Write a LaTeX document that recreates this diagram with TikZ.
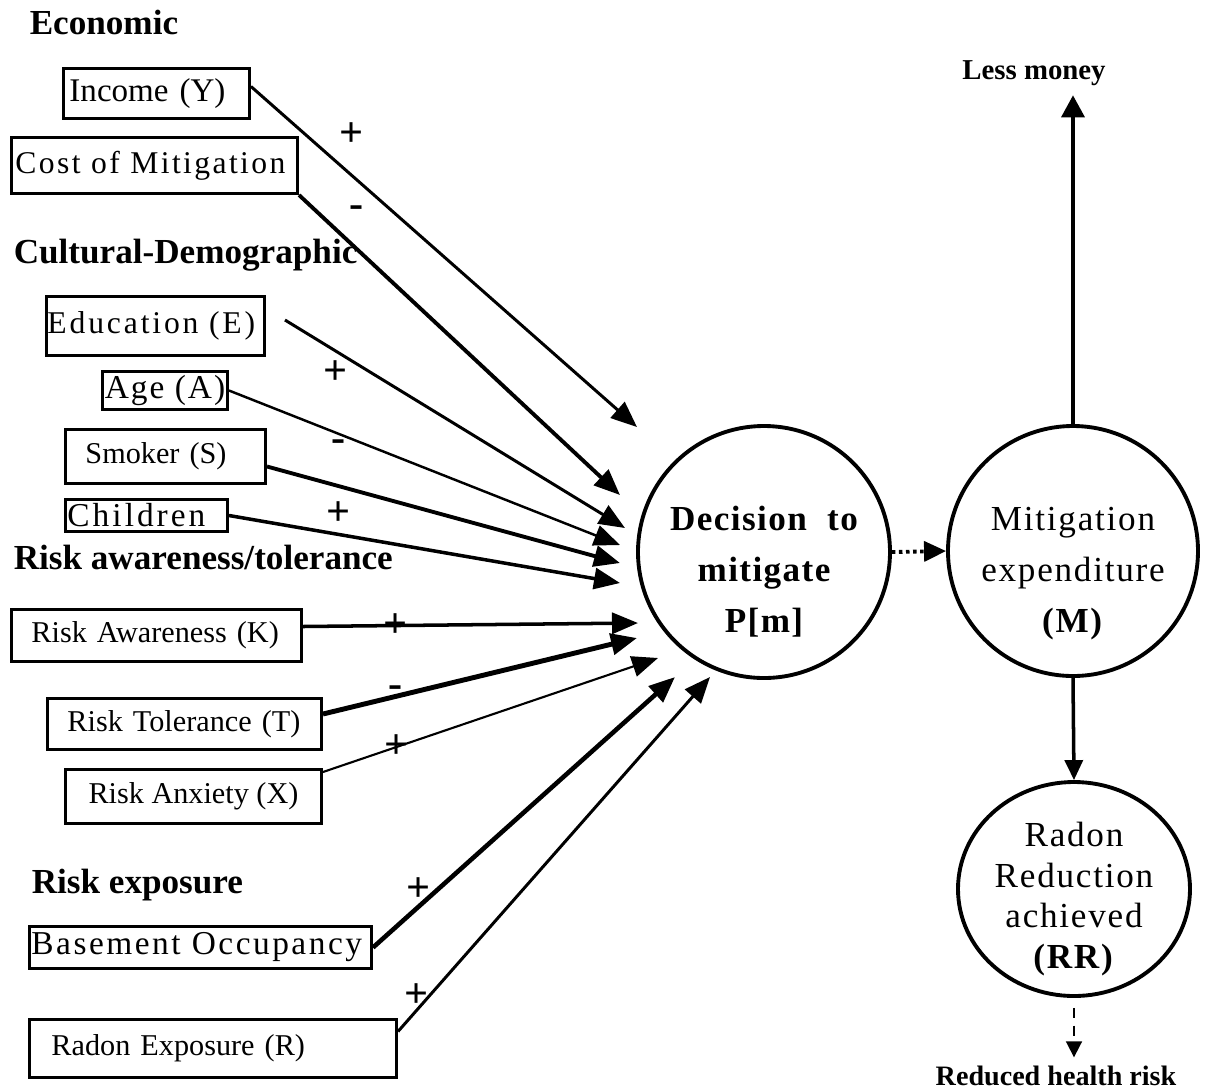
\documentclass[tikz,border=0pt]{standalone}
\usepackage{fontspec}
\setmainfont{Liberation Serif}
\usetikzlibrary{arrows.meta,shapes.geometric}
\tikzstyle{every path}=[line width=1pt]
\tikzstyle{factor}=[draw, line width=0.85pt, anchor=north west, inner ysep=0pt, align=left, font=\fontsize{8.6}{10}\selectfont]
\tikzstyle{heading}=[anchor=west, inner sep=0pt, font=\bfseries\fontsize{10}{12}\selectfont]
\tikzstyle{stage}=[draw, circle, line width=1.1pt, inner sep=-1.5mm, align=center]
\tikzstyle{sign}=[inner sep=0pt, font=\bfseries\fontsize{12}{12}\selectfont]
\tikzstyle{effect}=[-{Triangle[length=2.6mm,width=2.1mm]}]
\tikzstyle{outcome}=[inner sep=0pt, font=\bfseries\fontsize{8.2}{10}\selectfont]

\begin{document}
\begin{tikzpicture}
    \useasboundingbox (0,0) rectangle (12.06,-10.90);

    \node[heading] (econ) at (0.28,-0.22) {Economic};
    \node[factor, minimum height=0.50cm, text width=1.74cm, inner xsep=0.06cm,
          font=\fontsize{9.4}{10}\selectfont] (inc) at (0.62,-0.67) {Income (Y)};
    \node[factor, minimum height=0.56cm, text width=2.78cm, inner xsep=0.04cm,
          font=\fontsize{9}{10}\selectfont\addfontfeature{LetterSpace=7.5}] (cost) at (0.10,-1.36) {Cost of Mitigation};

    \node[heading] (cult) at (0.12,-2.55) {Cultural-Demographic};
    \node[factor, minimum height=0.59cm, text width=2.16cm, inner xsep=0.01cm,
          font=\fontsize{9}{10}\selectfont\addfontfeature{LetterSpace=9}] (edu) at (0.45,-2.95) {Education (E)};
    \node[factor, minimum height=0.38cm, minimum width=1.25cm, inner xsep=0pt,
          font=\fontsize{9.5}{10}\selectfont\addfontfeature{LetterSpace=6}] (age) at (1.01,-3.70) {Age (A)};
    \node[factor, minimum height=0.54cm, text width=1.60cm, inner xsep=0.20cm] (smk) at (0.64,-4.28) {Smoker (S)};
    \node[factor, minimum height=0.32cm, text width=1.58cm, inner xsep=0.02cm,
          font=\fontsize{9.5}{10}\selectfont\addfontfeature{LetterSpace=9}] (kid) at (0.64,-4.98) {Children};

    \node[heading] (aware) at (0.12,-5.57) {Risk awareness/tolerance};
    \node[factor, minimum height=0.52cm, text width=2.50cm, inner xsep=0.20cm] (rk) at (0.10,-6.08) {Risk Awareness (K)};
    \node[factor, minimum height=0.51cm, text width=2.34cm, inner xsep=0.20cm] (rt) at (0.46,-6.97) {Risk Tolerance (T)};
    \node[factor, minimum height=0.54cm, minimum width=2.56cm, inner xsep=0pt] (rx) at (0.64,-7.68) {Risk Anxiety (X)};

    \node[heading] (expo) at (0.30,-8.85) {Risk exposure};
    \node[factor, minimum height=0.42cm, text width=3.38cm, inner xsep=0.02cm,
          font=\fontsize{9.5}{10}\selectfont\addfontfeature{LetterSpace=7.5}] (bas) at (0.28,-9.25) {Basement Occupancy};
    \node[factor, minimum height=0.58cm, text width=3.23cm, inner xsep=0.22cm] (rad) at (0.28,-10.18) {Radon Exposure (R)};

    \node[stage, minimum size=2.52cm, font=\bfseries\fontsize{10}{14.5}\selectfont\addfontfeature{LetterSpace=4}]
        (dec) at (7.64,-5.52) {\rule{0pt}{18pt}Decision\ \ to\\mitigate\\P[m]};
    \node[stage, minimum size=2.50cm, font=\fontsize{10}{14.5}\selectfont\addfontfeature{LetterSpace=5}]
        (mit) at (10.73,-5.51) {\rule{0pt}{19.5pt}Mitigation\\expenditure\\\textbf{(M)}};
    \node[stage, ellipse, minimum width=2.32cm, minimum height=2.14cm,
          font=\fontsize{10}{11.5}\selectfont\addfontfeature{LetterSpace=5}]
        (rr) at (10.74,-8.89) {\rule{0pt}{12.7pt}Radon\\Reduction\\achieved\\\textbf{(RR)}};

    \node[outcome] (money) at (10.34,-0.73) {Less money};
    \node[outcome, font=\bfseries\fontsize{8}{10}\selectfont] (health) at (10.56,-10.76) {Reduced health risk};

    \coordinate (tY) at (6.37,-4.27);
    \coordinate (tC) at (6.20,-4.95);
    \coordinate (tE) at (6.25,-5.28);
    \coordinate (tA) at (6.20,-5.45);
    \coordinate (tS) at (6.20,-5.63);
    \coordinate (tH) at (6.20,-5.83);
    \coordinate (tK) at (6.38,-6.23);
    \coordinate (tT) at (6.37,-6.38);
    \coordinate (tX) at (6.58,-6.58);
    \coordinate (tB) at (6.75,-6.77);
    \coordinate (tR) at (7.10,-6.77);

    \draw[effect, line width=0.85pt] ([yshift=0.7mm]inc.east) -- (tY)
        node[sign, pos=0.26, yshift=4mm]{+};
    \draw[effect, line width=1.1pt] (cost.south east) -- (tC)
        node[sign, pos=0.18, yshift=3.7mm]{-};
    \draw[effect, line width=0.85pt] ([xshift=1.9mm, yshift=0.6mm]edu.east) -- (tE)
        node[sign, pos=0.15, yshift=-2.1mm]{+};
    \draw[effect, line width=0.7pt] (age.east) -- (tA)
        node[sign, pos=0.28, yshift=-1.2mm]{-};
    \draw[effect, line width=1.1pt] ([yshift=-1mm]smk.east) -- (tS);
    \draw[effect, line width=1pt] (kid.east) -- (tH)
        node[sign, pos=0.28, yshift=2.1mm]{+};

    \draw[effect, line width=1pt] ([yshift=0.9mm]rk.east) -- (tK)
        node[sign, pos=0.275]{+};
    \draw[effect, line width=1.4pt] ([yshift=1mm]rt.east) -- (tT)
        node[sign, pos=0.23, yshift=0.5mm]{-};
    \draw[effect, line width=0.6pt] ([yshift=-0.4mm]rx.north east) -- (tX)
        node[sign, pos=0.22]{+};

    \draw[effect, line width=1.3pt] (bas.east) -- (tB)
        node[sign, pos=0.15, yshift=1.7mm]{+};
    \draw[effect, line width=0.85pt] ([yshift=1.7mm]rad.east) -- (tR)
        node[sign, pos=0.06, yshift=1.5mm]{+};

    \draw[densely dotted, line width=1.1pt, -{Triangle[length=2.2mm,width=2mm]}] (dec.east) -- (mit.west);
    \draw[-{Triangle[length=2.2mm,width=2.3mm]}, shorten >=0.8mm] (mit.north) -- (mit.north |- money.south);
    \draw[-{Triangle[length=2mm,width=1.8mm]}] (mit.south) -- (rr.north);
    \draw[densely dashed, line width=0.5pt, -{Triangle[length=1.6mm,width=1.6mm]}, shorten <=1mm, shorten >=0.7mm]
        (rr.south) -- (rr.south |- health.north);
\end{tikzpicture}
\end{document}
